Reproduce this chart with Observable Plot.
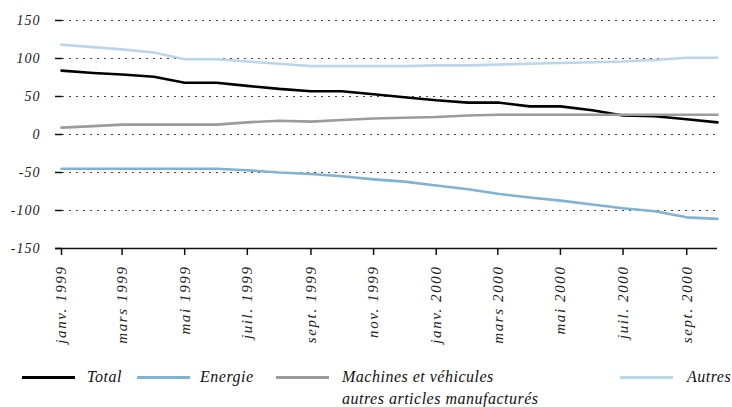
<!DOCTYPE html>
<html><head><meta charset="utf-8">
<script src="https://cdn.jsdelivr.net/npm/d3@7"></script>
<script src="https://cdn.jsdelivr.net/npm/@observablehq/plot@0.6"></script>
<style>
body{margin:0;background:#fff;}
#chart{width:732px;height:407px;position:relative;font-family:"Liberation Serif","DejaVu Serif",serif;font-style:italic;color:#111;}
#legend{position:absolute;left:0;top:362px;width:732px;height:45px;font-size:16px;letter-spacing:0.5px;}
.sw{position:absolute;height:3px;top:14px;width:53px;}
.lb{position:absolute;top:4px;line-height:22px;}
#chart svg g[aria-label="x-axis tick label"] text{letter-spacing:1.6px;}
#chart svg g[aria-label="y-axis tick label"] text{letter-spacing:1px;}
</style></head><body><div id="chart"></div>
<script>
const months = ["1999-01","1999-02","1999-03","1999-04","1999-05","1999-06","1999-07","1999-08","1999-09","1999-10","1999-11","1999-12",
  "2000-01","2000-02","2000-03","2000-04","2000-05","2000-06","2000-07","2000-08","2000-09","2000-10"];
const total    = [84,81,79,76,68,68,64,60,57,57,53,49,45,42,42,37,37,32,25,24,20,16];
const energie  = [-45,-45,-45,-45,-45,-45,-47,-50,-52,-55,-59,-62,-67,-72,-78,-83,-87,-92,-97,-101,-109,-111];
const machines = [9,11,13,13,13,13,16,18,17,19,21,22,23,25,26,26,26,26,26,26,26,26];
const autres   = [118,115,112,108,99,99,96,93,90,90,90,90,91,91,92,93,94,95,96,98,101,101];
const seriesNames = ["Total","Energie","Machines et véhicules autres articles manufacturés","Autres"];
const seriesColors = ["#000000","#7fb3d3","#9b9b9b","#bad6e9"];
const tickMonths = ["1999-01","1999-03","1999-05","1999-07","1999-09","1999-11","2000-01","2000-03","2000-05","2000-07","2000-09"];
const tickLabels = ["janv. 1999","mars 1999","mai 1999","juil. 1999","sept. 1999","nov. 1999","janv. 2000","mars 2000","mai 2000","juil. 2000","sept. 2000"];
const yTicks = [150,100,50,0,-50,-100,-150];
const gridTicks = [150,100,50,0,-50,-100];

const parse = d3.utcParse("%Y-%m");
const seriesValues = [total, energie, machines, autres];
const rows = [];
seriesValues.forEach((vals, s) => vals.forEach((v, i) => rows.push({date: parse(months[i]), value: v, series: seriesNames[s]})));
const tickDates = tickMonths.map(parse);
const labelMap = new Map(tickDates.map((d, i) => [+d, tickLabels[i]]));

const plot = Plot.plot({
  width: 732,
  height: 355,
  marginLeft: 55,
  marginRight: 15,
  marginTop: 20,
  marginBottom: 107,
  style: {fontFamily: '"Liberation Serif","DejaVu Serif",serif', fontStyle: "italic", background: "#fff", color: "#222"},
  x: {type: "utc", domain: [parse(months[0]), parse(months[months.length - 1])], insetLeft: 6, label: null},
  y: {domain: [-150, 150], label: null},
  color: {domain: seriesNames, range: seriesColors},
  marks: [
    Plot.ruleY(gridTicks, {stroke: "#444", strokeWidth: 1.2, strokeDasharray: "2,5"}),
    Plot.axisY({ticks: yTicks, tickSize: 7, dx: 7, text: null, stroke: "#111", strokeWidth: 1.5, label: null}),
    Plot.axisY({ticks: yTicks, tickSize: 0, tickPadding: 15, tickFormat: d => String(d), fontSize: 14, fill: "#222", label: null}),
    Plot.ruleY([-150], {stroke: "#111", strokeWidth: 1.5}),
    Plot.axisX({ticks: tickDates, tickSize: 7, tickPadding: 10, tickRotate: -90, tickFormat: d => labelMap.get(+d), fontSize: 15, fill: "#222", stroke: "#111", strokeWidth: 1.5, label: null}),
    Plot.lineY(rows, {x: "date", y: "value", z: "series", stroke: "series", strokeWidth: 2.6})
  ]
});
const chart = document.getElementById("chart");
chart.appendChild(plot);

const legend = document.createElement("div");
legend.id = "legend";
const swX = [22, 137, 276, 620];
const lbX = [87, 200, 342, 687];
const lbText = ["Total", "Energie", "Machines et véhicules<br>autres articles manufacturés", "Autres"];
seriesNames.forEach((n, i) => {
  const sw = document.createElement("div");
  sw.className = "sw"; sw.style.left = swX[i] + "px"; sw.style.background = seriesColors[i];
  const lb = document.createElement("div");
  lb.className = "lb"; lb.style.left = lbX[i] + "px"; lb.innerHTML = lbText[i];
  legend.appendChild(sw); legend.appendChild(lb);
});
chart.appendChild(legend);
</script></body></html>
